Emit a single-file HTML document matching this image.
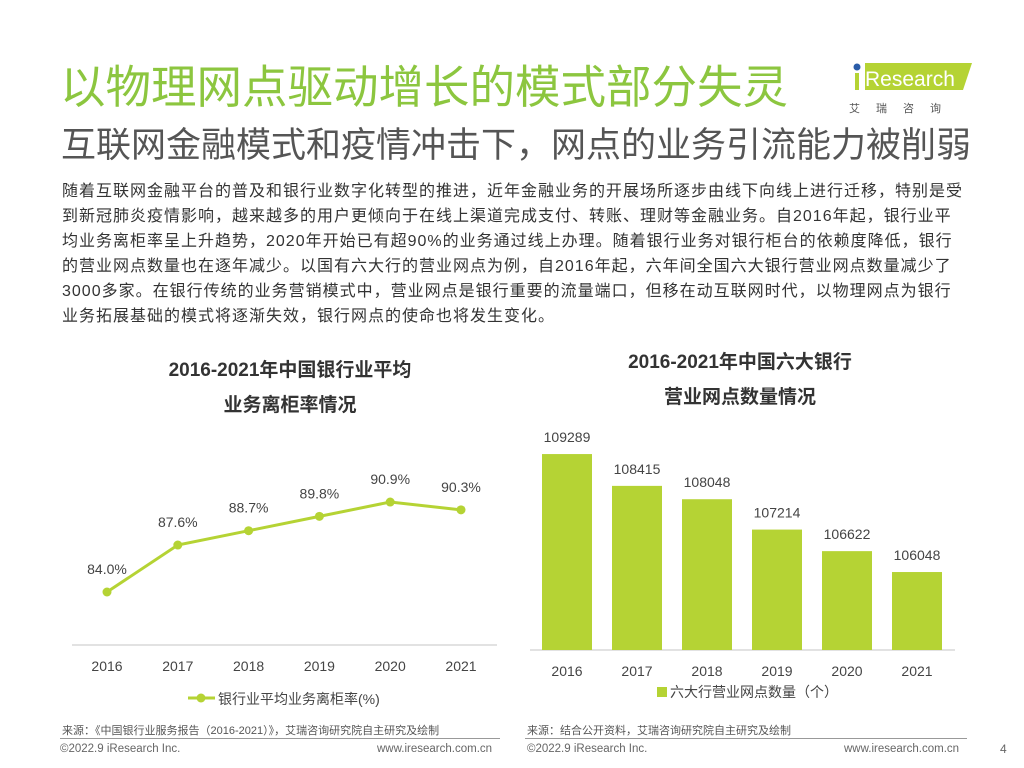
<!DOCTYPE html>
<html><head><meta charset="utf-8"><style>
body{margin:0;width:1024px;height:768px;background:#fff;position:relative;overflow:hidden;font-family:"Liberation Sans","Noto Sans CJK SC",sans-serif;}
.a{position:absolute;white-space:nowrap;}
</style></head><body>
<div class="a" style="left:60px;top:60px;font-size:45.5px;color:#8cc63f;line-height:56px;">以物理网点驱动增长的模式部分失灵</div>
<div class="a" style="left:61px;top:124px;font-size:35px;color:#555;line-height:44px;">互联网金融模式和疫情冲击下，网点的业务引流能力被削弱</div>
<div class="a" style="left:845px;top:58px;width:130px;height:60px;">
<svg width="130" height="60"><polygon points="20,5 127,5 118,32 20,32" fill="#b5d334"/><circle cx="12" cy="9" r="3.5" fill="#2a5ca8"/><rect x="10" y="15" width="4" height="17" fill="#b5d334"/>
<text x="20" y="28" font-size="21" fill="#fff" font-family="Liberation Sans">Research</text>
<text x="4" y="54" font-size="11" fill="#555" letter-spacing="16" font-family="Noto Sans CJK SC">艾瑞咨询</text></svg></div>
<div class="a" style="left:62px;top:179px;font-size:16px;letter-spacing:1px;line-height:25px;color:#333;">随着互联网金融平台的普及和银行业数字化转型的推进，近年金融业务的开展场所逐步由线下向线上进行迁移，特别是受<br>到新冠肺炎疫情影响，越来越多的用户更倾向于在线上渠道完成支付、转账、理财等金融业务。自2016年起，银行业平<br>均业务离柜率呈上升趋势，2020年开始已有超90%的业务通过线上办理。随着银行业务对银行柜台的依赖度降低，银行<br>的营业网点数量也在逐年减少。以国有六大行的营业网点为例，自2016年起，六年间全国六大银行营业网点数量减少了<br>3000多家。在银行传统的业务营销模式中，营业网点是银行重要的流量端口，但移在动互联网时代，以物理网点为银行<br>业务拓展基础的模式将逐渐失效，银行网点的使命也将发生变化。</div>
<div class="a" style="left:60px;top:353px;width:460px;text-align:center;font-size:19px;font-weight:bold;line-height:35px;color:#333;">2016-2021年中国银行业平均<br>业务离柜率情况</div>
<div class="a" style="left:520px;top:345px;width:440px;text-align:center;font-size:19px;font-weight:bold;line-height:35px;color:#333;">2016-2021年中国六大银行<br>营业网点数量情况</div>
<svg id="c" class="a" style="left:0;top:0" width="1024" height="768"></svg>
<div class="a" style="left:62px;top:722px;font-size:11px;color:#555;">来源：《中国银行业服务报告（2016-2021）》，艾瑞咨询研究院自主研究及绘制</div>
<div class="a" style="left:527px;top:722px;font-size:11px;color:#555;">来源：结合公开资料，艾瑞咨询研究院自主研究及绘制</div>
<div class="a" style="left:60px;top:738px;width:440px;height:1px;background:#999;"></div>
<div class="a" style="left:525px;top:738px;width:442px;height:1px;background:#999;"></div>
<div class="a" style="left:60px;top:743px;font-size:11.5px;color:#666;">©2022.9 iResearch Inc.</div>
<div class="a" style="left:377px;top:743px;font-size:11.5px;color:#666;">www.iresearch.com.cn</div>
<div class="a" style="left:527px;top:743px;font-size:11.5px;color:#666;">©2022.9 iResearch Inc.</div>
<div class="a" style="left:844px;top:743px;font-size:11.5px;color:#666;">www.iresearch.com.cn</div>
<div class="a" style="left:1000px;top:742px;font-size:12px;color:#666;">4</div>
<script>
const years=["2016","2017","2018","2019","2020","2021"];
const rates=[84.0,87.6,88.7,89.8,90.9,90.3];
const rateLabels=["84.0%","87.6%","88.7%","89.8%","90.9%","90.3%"];
const branches=[109289,108415,108048,107214,106622,106048];
const svg=document.getElementById('c');
const NS='http://www.w3.org/2000/svg';
function mk(t,a,txt){const e=document.createElementNS(NS,t);for(const k in a)e.setAttribute(k,a[k]);if(txt!=null)e.textContent=txt;svg.appendChild(e);return e;}
const lx=i=>107+i*70.8, ly=v=>592-(v-84)*13.04;
const bx=i=>542+i*70, by=v=>650-(v-103906)*0.0364;
let l=mk('line',{x1:72,y1:645,x2:497,y2:645,stroke:'#d9d9d9','stroke-width':1.5});

let pts=rates.map((v,i)=>lx(i)+','+ly(v)).join(' ');
let pl=mk('polyline',{points:pts,fill:'none',stroke:'#b5d334','stroke-width':3});

rates.forEach((v,i)=>{
 let c=mk('circle',{cx:lx(i),cy:ly(v),r:4.5,fill:'#b5d334'});
 
 let t=mk('text',{x:lx(i),y:ly(v)-18,'text-anchor':'middle','font-size':14,fill:'#444'},rateLabels[i]);
 
 let y=mk('text',{x:lx(i),y:671,'text-anchor':'middle','font-size':14,fill:'#444'},years[i]);
 
});
let ll=mk('line',{x1:188,y1:698,x2:215,y2:698,stroke:'#b5d334','stroke-width':3});

let lc=mk('circle',{cx:201,cy:698,r:4.5,fill:'#b5d334'});

let lt=mk('text',{x:218,y:704,'font-size':14,fill:'#444'},'银行业平均业务离柜率(%)');

let ba=mk('line',{x1:530,y1:650,x2:955,y2:650,stroke:'#d9d9d9','stroke-width':1.5});

branches.forEach((v,i)=>{
 let r=mk('rect',{x:bx(i),y:by(v),width:50,height:650-by(v),fill:'#b5d334'});
 
 let t=mk('text',{x:bx(i)+25,y:by(v)-12,'text-anchor':'middle','font-size':14,fill:'#444'},String(v));
 
 let y=mk('text',{x:bx(i)+25,y:676,'text-anchor':'middle','font-size':14,fill:'#444'},years[i]);
 
});
let bs=mk('rect',{x:657,y:687,width:10,height:10,fill:'#b5d334'});

let bt=mk('text',{x:670,y:697,'font-size':14,fill:'#444'},'六大行营业网点数量（个）');

</script>
</body></html>
